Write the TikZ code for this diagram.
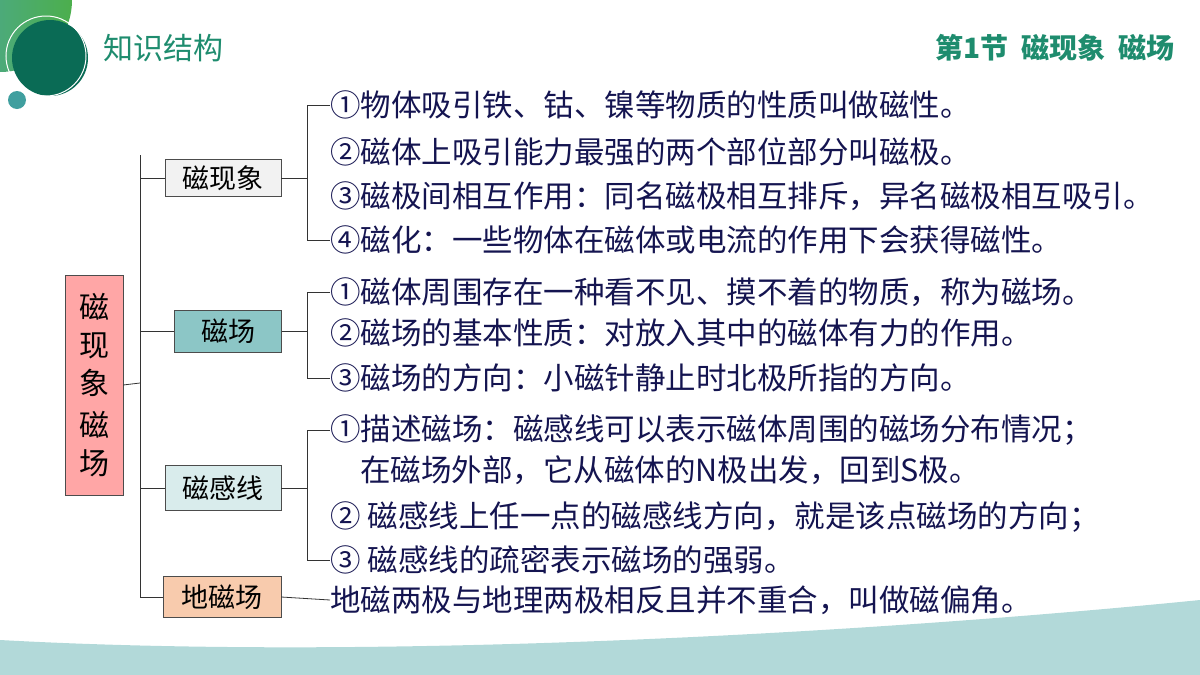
\documentclass[tikz,border=0pt]{standalone}
\usepackage{fontspec}
\setmainfont{Noto Sans CJK SC}
\newfontfamily\cjk{Noto Sans CJK SC}
\definecolor{ink}{HTML}{141450}
\definecolor{dgreen}{HTML}{0A6B55}
\definecolor{tgreen}{HTML}{1E8C6E}
\definecolor{peach}{HTML}{F8CBAD}
\tikzset{box/.style={draw=black!70,inner sep=0pt,font=\fontsize{27}{27}\selectfont},
  item/.style={anchor=west,inner sep=0pt,text=ink,font=\fontsize{30.5}{30.5}\selectfont},
  br/.style={black!80,line width=0.8pt}}
\begin{document}
\begin{tikzpicture}[x=1pt,y=-1pt]
\useasboundingbox (0,0) rectangle (1200,675);
% decoration
\shade[left color=teal!70,right color=green!55!black!70] (0,0) circle (72);
\fill[dgreen] (50,58) circle (38);
\draw[white,line width=1pt] (46,56) circle (40);
\fill[teal!75] (17,100) circle (9);
\fill[teal!30] (0,640) .. controls (400,662) and (900,630) .. (1200,600) -- (1200,675) -- (0,675) -- cycle;
\node[anchor=west,text=tgreen,font=\fontsize{30}{30}\selectfont] (ttl) at (100,48) {知识结构};
\node[anchor=east,text=tgreen,font=\bfseries\fontsize{28}{28}\selectfont] (sec) at (1178,48) {第1节\ \ 磁现象\ \ 磁场};
% boxes
\node[box,fill=red!35,minimum width=58,minimum height=220,align=center,font=\fontsize{30}{38}\selectfont] (main) at (94,385) {磁\\现\\象\\[4pt]磁\\场};
\node[box,fill=gray!10,minimum width=116,minimum height=37] (xx) at (223,178) {磁现象};
\node[box,fill=teal!45,minimum width=107,minimum height=42] (cc) at (228,331) {磁场};
\node[box,fill=teal!15,minimum width=116,minimum height=45] (gx) at (223,488) {磁感线};
\node[box,fill=peach,minimum width=118,minimum height=41] (dc) at (222,597) {地磁场};
\coordinate (bl) at (140,383);
\draw[br] (main.east) -- (bl);
\draw[br] (140,155) -- (140,598);
\foreach \b in {xx,cc,gx,dc} \draw[br] (\b.west) -- (\b.west -| bl);
% items
\node[item] (a1) at (330,105) {①物体吸引铁、钴、镍等物质的性质叫做磁性。};
\node[item] (a2) at (330,152) {②磁体上吸引能力最强的两个部位部分叫磁极。};
\node[item] (a3) at (330,196) {③磁极间相互作用：同名磁极相互排斥，异名磁极相互吸引。};
\node[item] (a4) at (330,240) {④磁化：一些物体在磁体或电流的作用下会获得磁性。};
\node[item] (b1) at (330,292) {①磁体周围存在一种看不见、摸不着的物质，称为磁场。};
\node[item] (b2) at (330,333) {②磁场的基本性质：对放入其中的磁体有力的作用。};
\node[item] (b3) at (330,378) {③磁场的方向：小磁针静止时北极所指的方向。};
\node[item] (c1) at (330,430) {①描述磁场：磁感线可以表示磁体周围的磁场分布情况；};
\node[item] (c2) at (360,470) {在磁场外部，它从磁体的N极出发，回到S极。};
\node[item] (c3) at (330,517) {② 磁感线上任一点的磁感线方向，就是该点磁场的方向；};
\node[item] (c4) at (330,560) {③ 磁感线的疏密表示磁场的强弱。};
\node[item] (d1) at (330,600) {地磁两极与地理两极相反且并不重合，叫做磁偏角。};
% brackets
\draw[br] (a1.west) -- ++(-23,0) |- (a4.west);
\draw[br] (xx.east) -- ++(26,0);
\draw[br] (b1.west) -- ++(-23,0) |- (b3.west);
\draw[br] (cc.east) -- ++(25,0);
\draw[br] (c1.west) -- ++(-23,0) |- (c4.west);
\draw[br] (gx.east) -- ++(26,0);
\draw[br] (dc.east) -- (d1.west);
\end{tikzpicture}
\end{document}
